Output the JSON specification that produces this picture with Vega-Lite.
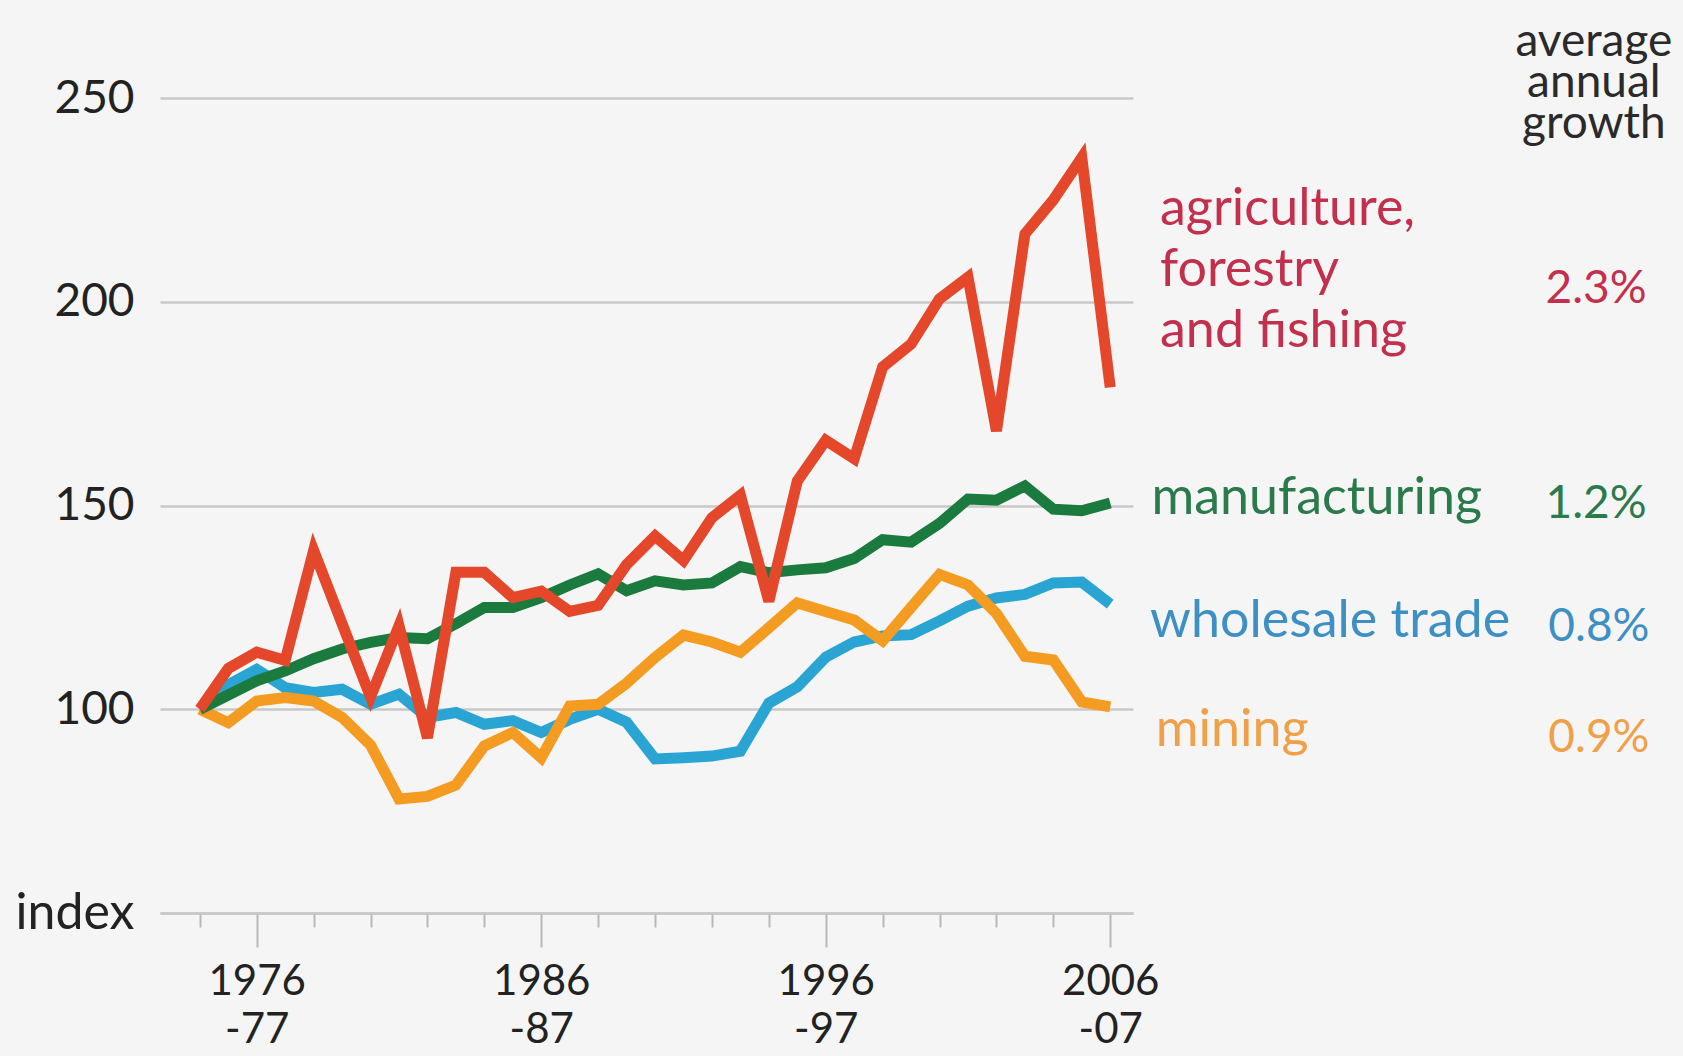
{
  "$schema": "https://vega.github.io/schema/vega-lite/v6.json",
  "autosize": "none",
  "width": 973,
  "height": 815,
  "padding": {"left": 160, "top": 98, "right": 550, "bottom": 143},
  "background": "#f5f5f5",
  "config": {"view": {"stroke": null}, "font": "Lato"},
  "datasets": {
    "series": [
      {"series": "wholesale trade", "year": 1974, "value": 100},
      {"series": "wholesale trade", "year": 1975, "value": 106},
      {"series": "wholesale trade", "year": 1976, "value": 109.8},
      {"series": "wholesale trade", "year": 1977, "value": 105.3},
      {"series": "wholesale trade", "year": 1978, "value": 104.1},
      {"series": "wholesale trade", "year": 1979, "value": 104.9},
      {"series": "wholesale trade", "year": 1980, "value": 101.2},
      {"series": "wholesale trade", "year": 1981, "value": 103.7},
      {"series": "wholesale trade", "year": 1982, "value": 98},
      {"series": "wholesale trade", "year": 1983, "value": 99.2},
      {"series": "wholesale trade", "year": 1984, "value": 96.3},
      {"series": "wholesale trade", "year": 1985, "value": 97.2},
      {"series": "wholesale trade", "year": 1986, "value": 94.3},
      {"series": "wholesale trade", "year": 1987, "value": 97.5},
      {"series": "wholesale trade", "year": 1988, "value": 100},
      {"series": "wholesale trade", "year": 1989, "value": 96.8},
      {"series": "wholesale trade", "year": 1990, "value": 87.8},
      {"series": "wholesale trade", "year": 1991, "value": 88.1},
      {"series": "wholesale trade", "year": 1992, "value": 88.5},
      {"series": "wholesale trade", "year": 1993, "value": 89.7},
      {"series": "wholesale trade", "year": 1994, "value": 101.5},
      {"series": "wholesale trade", "year": 1995, "value": 105.5},
      {"series": "wholesale trade", "year": 1996, "value": 112.8},
      {"series": "wholesale trade", "year": 1997, "value": 116.5},
      {"series": "wholesale trade", "year": 1998, "value": 118},
      {"series": "wholesale trade", "year": 1999, "value": 118.3},
      {"series": "wholesale trade", "year": 2000, "value": 121.7},
      {"series": "wholesale trade", "year": 2001, "value": 125.3},
      {"series": "wholesale trade", "year": 2002, "value": 127.3},
      {"series": "wholesale trade", "year": 2003, "value": 128.2},
      {"series": "wholesale trade", "year": 2004, "value": 131},
      {"series": "wholesale trade", "year": 2005, "value": 131.2},
      {"series": "wholesale trade", "year": 2006, "value": 125.8},
      {"series": "mining", "year": 1974, "value": 100},
      {"series": "mining", "year": 1975, "value": 96.7},
      {"series": "mining", "year": 1976, "value": 102},
      {"series": "mining", "year": 1977, "value": 102.9},
      {"series": "mining", "year": 1978, "value": 102},
      {"series": "mining", "year": 1979, "value": 98},
      {"series": "mining", "year": 1980, "value": 91.2},
      {"series": "mining", "year": 1981, "value": 78},
      {"series": "mining", "year": 1982, "value": 78.6},
      {"series": "mining", "year": 1983, "value": 81.4},
      {"series": "mining", "year": 1984, "value": 91},
      {"series": "mining", "year": 1985, "value": 94.3},
      {"series": "mining", "year": 1986, "value": 88.1},
      {"series": "mining", "year": 1987, "value": 100.8},
      {"series": "mining", "year": 1988, "value": 101.2},
      {"series": "mining", "year": 1989, "value": 106.4},
      {"series": "mining", "year": 1990, "value": 112.7},
      {"series": "mining", "year": 1991, "value": 118.2},
      {"series": "mining", "year": 1992, "value": 116.5},
      {"series": "mining", "year": 1993, "value": 114},
      {"series": "mining", "year": 1994, "value": 120},
      {"series": "mining", "year": 1995, "value": 126.1},
      {"series": "mining", "year": 1996, "value": 124},
      {"series": "mining", "year": 1997, "value": 121.9},
      {"series": "mining", "year": 1998, "value": 116.8},
      {"series": "mining", "year": 1999, "value": 125},
      {"series": "mining", "year": 2000, "value": 133.1},
      {"series": "mining", "year": 2001, "value": 130.5},
      {"series": "mining", "year": 2002, "value": 123.5},
      {"series": "mining", "year": 2003, "value": 113},
      {"series": "mining", "year": 2004, "value": 112.1},
      {"series": "mining", "year": 2005, "value": 101.8},
      {"series": "mining", "year": 2006, "value": 100.6},
      {"series": "manufacturing", "year": 1974, "value": 100},
      {"series": "manufacturing", "year": 1975, "value": 103.5},
      {"series": "manufacturing", "year": 1976, "value": 107},
      {"series": "manufacturing", "year": 1977, "value": 109.4},
      {"series": "manufacturing", "year": 1978, "value": 112.4},
      {"series": "manufacturing", "year": 1979, "value": 114.8},
      {"series": "manufacturing", "year": 1980, "value": 116.4},
      {"series": "manufacturing", "year": 1981, "value": 117.6},
      {"series": "manufacturing", "year": 1982, "value": 117.3},
      {"series": "manufacturing", "year": 1983, "value": 121},
      {"series": "manufacturing", "year": 1984, "value": 125},
      {"series": "manufacturing", "year": 1985, "value": 125},
      {"series": "manufacturing", "year": 1986, "value": 127.4},
      {"series": "manufacturing", "year": 1987, "value": 130.5},
      {"series": "manufacturing", "year": 1988, "value": 133.2},
      {"series": "manufacturing", "year": 1989, "value": 129.1},
      {"series": "manufacturing", "year": 1990, "value": 131.5},
      {"series": "manufacturing", "year": 1991, "value": 130.5},
      {"series": "manufacturing", "year": 1992, "value": 131},
      {"series": "manufacturing", "year": 1993, "value": 135},
      {"series": "manufacturing", "year": 1994, "value": 133.5},
      {"series": "manufacturing", "year": 1995, "value": 134.2},
      {"series": "manufacturing", "year": 1996, "value": 134.7},
      {"series": "manufacturing", "year": 1997, "value": 137},
      {"series": "manufacturing", "year": 1998, "value": 141.6},
      {"series": "manufacturing", "year": 1999, "value": 141},
      {"series": "manufacturing", "year": 2000, "value": 145.6},
      {"series": "manufacturing", "year": 2001, "value": 151.6},
      {"series": "manufacturing", "year": 2002, "value": 151.3},
      {"series": "manufacturing", "year": 2003, "value": 154.8},
      {"series": "manufacturing", "year": 2004, "value": 149.1},
      {"series": "manufacturing", "year": 2005, "value": 148.7},
      {"series": "manufacturing", "year": 2006, "value": 150.6},
      {"series": "agriculture", "year": 1974, "value": 100},
      {"series": "agriculture", "year": 1975, "value": 110},
      {"series": "agriculture", "year": 1976, "value": 114},
      {"series": "agriculture", "year": 1977, "value": 112},
      {"series": "agriculture", "year": 1978, "value": 139},
      {"series": "agriculture", "year": 1979, "value": 121},
      {"series": "agriculture", "year": 1980, "value": 103},
      {"series": "agriculture", "year": 1981, "value": 120.5},
      {"series": "agriculture", "year": 1982, "value": 93},
      {"series": "agriculture", "year": 1983, "value": 133.6},
      {"series": "agriculture", "year": 1984, "value": 133.6},
      {"series": "agriculture", "year": 1985, "value": 127.4},
      {"series": "agriculture", "year": 1986, "value": 129},
      {"series": "agriculture", "year": 1987, "value": 124},
      {"series": "agriculture", "year": 1988, "value": 125.5},
      {"series": "agriculture", "year": 1989, "value": 135.5},
      {"series": "agriculture", "year": 1990, "value": 142.5},
      {"series": "agriculture", "year": 1991, "value": 136.5},
      {"series": "agriculture", "year": 1992, "value": 147},
      {"series": "agriculture", "year": 1993, "value": 152.5},
      {"series": "agriculture", "year": 1994, "value": 126.5},
      {"series": "agriculture", "year": 1995, "value": 156},
      {"series": "agriculture", "year": 1996, "value": 166},
      {"series": "agriculture", "year": 1997, "value": 161.5},
      {"series": "agriculture", "year": 1998, "value": 184},
      {"series": "agriculture", "year": 1999, "value": 189.6},
      {"series": "agriculture", "year": 2000, "value": 200.7},
      {"series": "agriculture", "year": 2001, "value": 206},
      {"series": "agriculture", "year": 2002, "value": 168.3},
      {"series": "agriculture", "year": 2003, "value": 216.6},
      {"series": "agriculture", "year": 2004, "value": 225},
      {"series": "agriculture", "year": 2005, "value": 235.4},
      {"series": "agriculture", "year": 2006, "value": 179}
    ],
    "names": [
      {"series": "agriculture", "label": "agriculture,\nforestry\nand fishing", "x": 2007.75, "y": 218.8},
      {"series": "manufacturing", "label": "manufacturing", "x": 2007.45, "y": 148},
      {"series": "wholesale trade", "label": "wholesale trade", "x": 2007.4, "y": 117.8},
      {"series": "mining", "label": "mining", "x": 2007.6, "y": 91}
    ],
    "growth": [
      {"series": "agriculture", "label": "2.3%", "x": 2021.3, "y": 199.6},
      {"series": "manufacturing", "label": "1.2%", "x": 2021.3, "y": 147},
      {"series": "wholesale trade", "label": "0.8%", "x": 2021.4, "y": 116.8},
      {"series": "mining", "label": "0.9%", "x": 2021.4, "y": 89.5}
    ],
    "header": [
      {"label": "average", "x": 2023, "y": 260.3},
      {"label": "annual", "x": 2023, "y": 250.2},
      {"label": "growth", "x": 2023, "y": 240.1}
    ]
  },
  "layer": [
    {
      "data": {"name": "series"},
      "mark": {"type": "line", "strokeWidth": 11, "strokeJoin": "miter", "strokeCap": "butt"},
      "encoding": {
        "x": {
          "field": "year", "type": "quantitative",
          "scale": {"domain": [1972.6, 2006.8], "nice": false, "zero": false},
          "axis": {
            "title": null,
            "values": [1974,1975,1976,1977,1978,1979,1980,1981,1982,1983,1984,1985,1986,1987,1988,1989,1990,1991,1992,1993,1994,1995,1996,1997,1998,1999,2000,2001,2002,2003,2004,2005,2006],
            "format": "d",
            "labelExpr": "(datum.value - 1976) % 10 == 0 ? [datum.label, '-' + substring(toString(datum.value + 1), 2)] : ''",
            "tickSize": {"condition": {"test": "(datum.value - 1976) % 10 == 0", "value": 34}, "value": 14},
            "tickColor": "#b8b8b8",
            "tickWidth": 2,
            "domainColor": "#c8c8c8",
            "domainWidth": 2.5,
            "labelFont": "Lato",
            "labelFontSize": 42,
            "labelLineHeight": 48,
            "labelColor": "#222222",
            "labelPadding": 14,
            "labelOverlap": false,
            "labelFlush": false,
            "labelBound": false,
            "grid": false
          }
        },
        "y": {
          "field": "value", "type": "quantitative",
          "scale": {"domain": [50, 250], "nice": false, "zero": false},
          "axis": {
            "title": null,
            "values": [50, 100, 150, 200, 250],
            "labelExpr": "datum.value == 50 ? 'index' : datum.label",
            "grid": true,
            "gridColor": "#c8c8c8",
            "gridWidth": 2.5,
            "domain": false,
            "ticks": false,
            "labelPadding": 26,
            "labelFont": "Lato",
            "labelFontSize": {"condition": {"test": "datum.value == 50", "value": 50}, "value": 46},
            "labelColor": "#222222"
          }
        },
        "color": {
          "field": "series", "type": "nominal", "legend": null,
          "scale": {"domain": ["agriculture", "manufacturing", "wholesale trade", "mining"], "range": ["#e5472a", "#1b7a3d", "#2aa5d3", "#f49b22"]}
        },
        "order": {"field": "year"}
      }
    },
    {
      "data": {"name": "names"},
      "mark": {"type": "text", "align": "left", "baseline": "alphabetic", "font": "Lato", "fontSize": 52, "lineBreak": "\n", "lineHeight": 61},
      "encoding": {
        "x": {"field": "x", "type": "quantitative", "scale": {"domain": [1972.6, 2006.8], "nice": false, "zero": false}},
        "y": {"field": "y", "type": "quantitative", "scale": {"domain": [50, 250], "nice": false, "zero": false}},
        "text": {"field": "label"},
        "color": {
          "field": "series", "type": "nominal", "legend": null,
          "scale": {"domain": ["agriculture", "manufacturing", "wholesale trade", "mining"], "range": ["#c3304d", "#2a7a4c", "#3d8fc4", "#efa048"]}
        }
      }
    },
    {
      "data": {"name": "growth"},
      "mark": {"type": "text", "align": "left", "baseline": "alphabetic", "font": "Lato", "fontSize": 46},
      "encoding": {
        "x": {"field": "x", "type": "quantitative", "scale": {"domain": [1972.6, 2006.8], "nice": false, "zero": false}},
        "y": {"field": "y", "type": "quantitative", "scale": {"domain": [50, 250], "nice": false, "zero": false}},
        "text": {"field": "label"},
        "color": {
          "field": "series", "type": "nominal", "legend": null,
          "scale": {"domain": ["agriculture", "manufacturing", "wholesale trade", "mining"], "range": ["#c3304d", "#2a7a4c", "#3d8fc4", "#efa048"]}
        }
      }
    },
    {
      "data": {"name": "header"},
      "mark": {"type": "text", "align": "center", "baseline": "alphabetic", "font": "Lato", "fontSize": 46, "color": "#2a2a2a"},
      "encoding": {
        "x": {"field": "x", "type": "quantitative", "scale": {"domain": [1972.6, 2006.8], "nice": false, "zero": false}},
        "y": {"field": "y", "type": "quantitative", "scale": {"domain": [50, 250], "nice": false, "zero": false}},
        "text": {"field": "label"}
      }
    }
  ],
  "resolve": {"scale": {"color": "independent"}}
}
